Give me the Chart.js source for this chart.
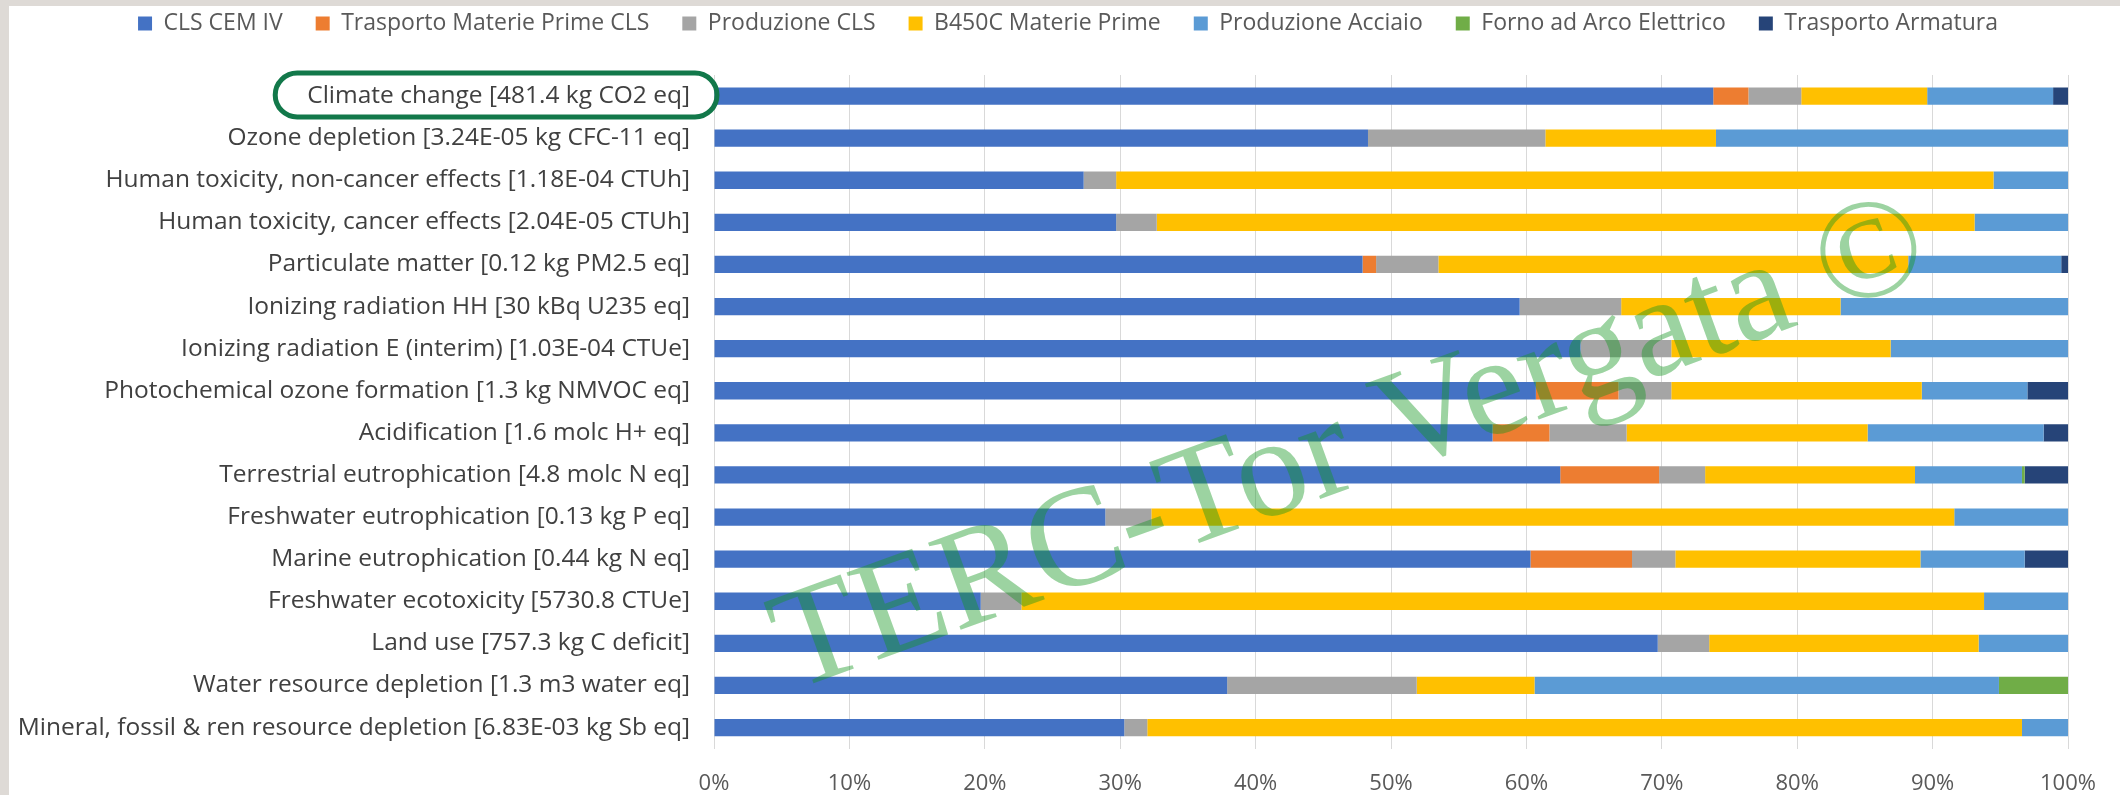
<!DOCTYPE html>
<html>
<head>
<meta charset="utf-8">
<title>Contributi per categoria d'impatto</title>
<script src="https://cdn.jsdelivr.net/npm/chart.js@4.4.1/dist/chart.umd.min.js"></script>
<style>
  html, body { margin: 0; padding: 0; background: #fff; }
  #wrap { width: 2120px; height: 795px; }
</style>
</head>
<body>
<div id="wrap"><canvas id="chart" width="2120" height="795"></canvas></div>
<script>
// categorie d'impatto (asse verticale)
const categories = [
  "Climate change [481.4 kg CO2 eq]",
  "Ozone depletion [3.24E-05 kg CFC-11 eq]",
  "Human toxicity, non-cancer effects [1.18E-04 CTUh]",
  "Human toxicity, cancer effects [2.04E-05 CTUh]",
  "Particulate matter [0.12 kg PM2.5 eq]",
  "Ionizing radiation HH [30 kBq U235 eq]",
  "Ionizing radiation E (interim) [1.03E-04 CTUe]",
  "Photochemical ozone formation [1.3 kg NMVOC eq]",
  "Acidification [1.6 molc H+ eq]",
  "Terrestrial eutrophication [4.8 molc N eq]",
  "Freshwater eutrophication [0.13 kg P eq]",
  "Marine eutrophication [0.44 kg N eq]",
  "Freshwater ecotoxicity [5730.8 CTUe]",
  "Land use [757.3 kg C deficit]",
  "Water resource depletion [1.3 m3 water eq]",
  "Mineral, fossil & ren resource depletion [6.83E-03 kg Sb eq]"
];

// quota percentuale di ogni fase
const clsCemIV         = [73.8, 48.3, 27.3, 29.7, 47.9, 59.5, 64.0, 60.7, 57.5, 62.5, 28.9, 60.3, 19.7, 69.7, 37.9, 30.3];
const trasportoMPCls   = [2.6, 0, 0, 0, 1.0, 0, 0, 6.1, 4.2, 7.3, 0, 7.5, 0, 0, 0, 0];
const produzioneCls    = [3.9, 13.1, 2.4, 3.0, 4.6, 7.5, 6.7, 3.9, 5.7, 3.4, 3.4, 3.2, 3.0, 3.8, 14.0, 1.7];
const b450cMP          = [9.3, 12.6, 64.8, 60.4, 34.7, 16.2, 16.2, 18.5, 17.8, 15.5, 59.3, 18.1, 71.1, 19.9, 8.7, 64.6];
const produzioneAcc    = [9.3, 26.0, 5.5, 6.9, 11.3, 16.8, 13.1, 7.8, 13.0, 7.9, 8.4, 7.7, 6.2, 6.6, 34.3, 3.4];
const fornoArco        = [0, 0, 0, 0, 0, 0, 0, 0, 0, 0.2, 0, 0, 0, 0, 5.1, 0];
const trasportoArm     = [1.1, 0, 0, 0, 0.5, 0, 0, 3.0, 1.8, 3.2, 0, 3.2, 0, 0, 0, 0];

const xTicks = [0, 10, 20, 30, 40, 50, 60, 70, 80, 90, 100];

const series = [
  { label: "CLS CEM IV", data: clsCemIV, color: "#4472c4" },
  { label: "Trasporto Materie Prime CLS", data: trasportoMPCls, color: "#ed7d31" },
  { label: "Produzione CLS", data: produzioneCls, color: "#a5a5a5" },
  { label: "B450C Materie Prime", data: b450cMP, color: "#ffc000" },
  { label: "Produzione Acciaio", data: produzioneAcc, color: "#5b9bd5" },
  { label: "Forno ad Arco Elettrico", data: fornoArco, color: "#70ad47" },
  { label: "Trasporto Armatura", data: trasportoArm, color: "#264478" }
];

const FONT = '"Open Sans", "DejaVu Sans", sans-serif';
const LABEL_SIZE = 24.5;
const PLOT_LEFT = 714;

// sfondo grigio con area bianca del grafico
const frame = {
  id: "frame",
  beforeDraw(chart) {
    const ctx = chart.ctx;
    ctx.save();
    ctx.fillStyle = "#dedad6";
    ctx.fillRect(0, 0, chart.width, chart.height);
    ctx.fillStyle = "#ffffff";
    ctx.fillRect(9, 6, chart.width - 9, chart.height - 6);
    ctx.restore();
  }
};

// spazio extra sotto la legenda, e legenda spostata un po' a destra
const legendGap = {
  id: "legendGap",
  beforeInit(chart) {
    const fit = chart.legend.fit;
    chart.legend.fit = function () {
      fit.bind(chart.legend)();
      this.height += 30;
    };
  },
  afterLayout(chart) {
    chart.legend.left += 34;
    chart.legend.right += 34;
  }
};

// ovale verde attorno alla prima etichetta
const highlight = {
  id: "highlight",
  afterDraw(chart) {
    const ctx = chart.ctx;
    const y = chart.scales.y;
    ctx.save();
    ctx.font = LABEL_SIZE + "px " + FONT;
    const w = ctx.measureText(categories[0]).width;
    const right = chart.chartArea.left + 3;
    const left = y.right - y.options.ticks.padding - w - 32;
    const cy = y.getPixelForValue(0) - 1;
    const h = 44;
    ctx.strokeStyle = "#12784a";
    ctx.lineWidth = 5;
    ctx.beginPath();
    ctx.roundRect(left, cy - h / 2, right - left, h, h / 2);
    ctx.stroke();
    ctx.restore();
  }
};

// scritta in filigrana
const watermark = {
  id: "watermark",
  afterDraw(chart) {
    const ctx = chart.ctx;
    ctx.save();
    ctx.translate(1364, 483);
    ctx.rotate(-20 * Math.PI / 180);
    ctx.font = '142px "Liberation Serif", "DejaVu Serif", serif';
    ctx.fillStyle = "rgba(20, 150, 30, 0.42)";
    ctx.textAlign = "center";
    ctx.textBaseline = "alphabetic";
    ctx.fillText("TERC-Tor Vergata \u00a9", 0, 0);
    ctx.restore();
  }
};

Chart.defaults.font.family = FONT;

new Chart(document.getElementById("chart"), {
  type: "bar",
  data: {
    labels: categories,
    datasets: series.map((s) => ({
      label: s.label,
      data: s.data,
      backgroundColor: s.color,
      borderWidth: 0,
      categoryPercentage: 1,
      barPercentage: 0.41
    }))
  },
  options: {
    indexAxis: "y",
    responsive: false,
    animation: false,
    layout: { padding: { top: -21, right: 52, bottom: -24, left: 0 } },
    plugins: {
      legend: {
        position: "top",
        labels: {
          font: { size: 23 },
          color: "#595959",
          boxWidth: 14,
          boxHeight: 14,
          padding: 33
        }
      },
      tooltip: { enabled: false }
    },
    scales: {
      x: {
        stacked: true,
        min: 0,
        max: 100,
        afterBuildTicks(scale) {
          scale.ticks = xTicks.map((v) => ({ value: v }));
        },
        ticks: {
          font: { size: 22 },
          color: "#595959",
          padding: 22,
          callback: (v) => v + "%"
        },
        grid: { color: "#d9d9d9", lineWidth: 1, drawTicks: false },
        border: { display: false }
      },
      y: {
        stacked: true,
        afterFit(scale) {
          scale.width = PLOT_LEFT;
        },
        ticks: { font: { size: LABEL_SIZE }, color: "#404040", padding: 24, autoSkip: false },
        grid: { display: false, drawTicks: false },
        border: { display: false }
      }
    }
  },
  plugins: [frame, legendGap, highlight, watermark]
});
</script>
</body>
</html>
